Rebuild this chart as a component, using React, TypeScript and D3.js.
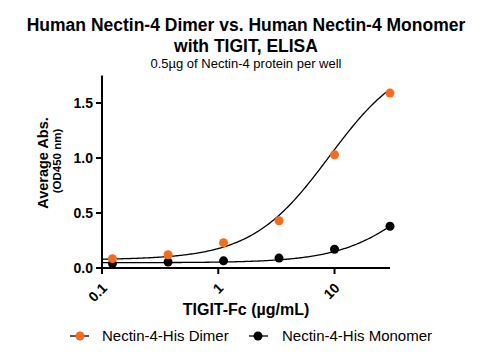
import React from "react";
import * as d3 from "d3";

const concentrations = [0.123, 0.37, 1.11, 3.33, 10, 30];
const dimerValues = [0.085, 0.12, 0.23, 0.43, 1.03, 1.59];
const monomerValues = [0.04, 0.055, 0.065, 0.09, 0.17, 0.38];
// 4PL fit parameters [bottom, top, EC50, hill]
const dimerFit = [0.075, 1.95, 9, 1.3];
const monomerFit = [0.048, 1.2, 60, 1.3];
const xTicks = [0.1, 1, 10];
const yTicks = [0, 0.5, 1.0, 1.5];

const W = 493, H = 358;
const FONT = "Liberation Sans, Arial, Helvetica, sans-serif";
const ORANGE = "#f26d1f";

export default function App() {
  const x = d3.scaleLog().domain([0.1, 30]).range([102, 390]);
  const y = d3.scaleLinear().domain([0, 1.75]).range([268, 75.5]);
  const fourPL = (p: number[]) => (c: number) => p[0] + (p[1] - p[0]) / (1 + Math.pow(p[2] / c, p[3]));
  const grid = d3.range(0, 201).map((i) => Math.pow(10, -1 + (Math.log10(300) * i) / 200));
  const line = d3.line<number>().x((c) => x(c));
  const dimerPath = line.y((c) => y(fourPL(dimerFit)(c)))(grid) || "";
  const monoPath = line.y((c) => y(fourPL(monomerFit)(c)))(grid) || "";
  const x0 = x(0.1), x1 = x(30), y0 = y(0);
  return (
    <svg width={W} height={H} style={{ position: "absolute", left: 0, top: 0, background: "#fff" }} fontFamily={FONT}>
      <text x={246} y={31} textAnchor="middle" fontSize={17.5} fontWeight="bold">Human Nectin-4 Dimer vs. Human Nectin-4 Monomer</text>
      <text x={246} y={52} textAnchor="middle" fontSize={17.5} fontWeight="bold">with TIGIT, ELISA</text>
      <text x={246} y={68} textAnchor="middle" fontSize={13}>0.5µg of Nectin-4 protein per well</text>

      <path d={dimerPath} fill="none" stroke="#000" strokeWidth={1.3} />
      <path d={monoPath} fill="none" stroke="#000" strokeWidth={1.3} />
      {concentrations.map((c, i) => (
        <circle key={"m" + i} cx={x(c)} cy={y(monomerValues[i])} r={4.5} fill="#000" />
      ))}
      {concentrations.map((c, i) => (
        <circle key={"d" + i} cx={x(c)} cy={y(dimerValues[i])} r={4.5} fill={ORANGE} />
      ))}

      <line x1={x0} x2={x0} y1={y(1.75)} y2={y0 + 5} stroke="#000" strokeWidth={2} />
      <line x1={x0 - 6} x2={x1} y1={y0} y2={y0} stroke="#000" strokeWidth={2} />
      {yTicks.map((t) => (
        <g key={"yt" + t}>
          <line x1={x0 - 6} x2={x0} y1={y(t)} y2={y(t)} stroke="#000" strokeWidth={2} />
          <text x={x0 - 9} y={y(t) + 5} textAnchor="end" fontSize={14} fontWeight="bold">{t.toFixed(1)}</text>
        </g>
      ))}
      {xTicks.map((t) => (
        <g key={"xt" + t}>
          <line x1={x(t)} x2={x(t)} y1={y0} y2={y0 + 6} stroke="#000" strokeWidth={2} />
          <text transform={`translate(${x(t) + 6},${y0 + 21}) rotate(-45)`} textAnchor="end" fontSize={14} fontWeight="bold">{String(t)}</text>
        </g>
      ))}
      <text x={246} y={315} textAnchor="middle" fontSize={16} fontWeight="bold">TIGIT-Fc (µg/mL)</text>
      <text transform="translate(47.5,163) rotate(-90)" textAnchor="middle" fontSize={14.5} fontWeight="bold">Average Abs.</text>
      <text transform="translate(61,161) rotate(-90)" textAnchor="middle" fontSize={11.5} fontWeight="bold">(OD450 nm)</text>

      <line x1={70} x2={89} y1={336} y2={336} stroke="#000" strokeWidth={1.3} />
      <circle cx={80} cy={336} r={4.5} fill={ORANGE} />
      <text x={102} y={341} fontSize={15}>Nectin-4-His Dimer</text>
      <line x1={249} x2={268} y1={336} y2={336} stroke="#000" strokeWidth={1.3} />
      <circle cx={258} cy={336} r={4.5} fill="#000" />
      <text x={282} y={341} fontSize={15}>Nectin-4-His Monomer</text>
    </svg>
  );
}
